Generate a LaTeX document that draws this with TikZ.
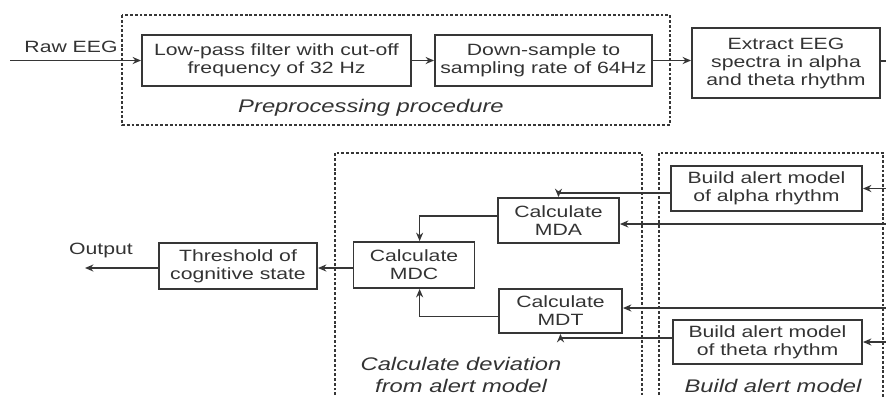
\documentclass[tikz,border=0pt]{standalone}
\usepackage{fontspec}
\setmainfont{Liberation Sans}[FakeStretch=1.3]
\usetikzlibrary{arrows.meta,positioning}

\definecolor{linegray}{HTML}{363636}
\definecolor{txtgray}{HTML}{333333}

\begin{document}
\begin{tikzpicture}[x=0.025cm, y=-0.025cm, font=\fontsize{11.6}{12.8}\selectfont, text=txtgray]

% Define styles
\tikzstyle{box} = [rectangle, draw=linegray, line width=1.3pt, align=center, inner sep=0pt]
\tikzstyle{group} = [draw=linegray, line width=0.9pt, dash pattern=on 2pt off 1.4pt]
\tikzstyle{caption} = [font=\fontsize{13}{15}\selectfont\itshape, align=center]
\tikzstyle{arrow} = [draw=linegray, line width=1.2pt, ->, >={Stealth[length=6pt,width=5pt]}]
\tikzstyle{line} = [draw=linegray, line width=1.2pt]

\useasboundingbox (0,0) rectangle (886,396);

% Groups
\draw [group] (122,15) rectangle (670,125);
\draw [group] (335,400) |- (642,153) -- (642,400);
\draw [group] (659,400) |- (883,153) -- (883,400);

% Nodes
\node [box, minimum width=6.725cm, minimum height=1.275cm] (lowpass) at (276.5,60.5) {Low-pass filter with cut-off\\frequency of 32 Hz};
\node [box, minimum width=5.425cm, minimum height=1.275cm] (downsample) at (543.5,60.5) {Down-sample to\\sampling rate of 64Hz};
\node [box, minimum width=4.7cm, minimum height=1.75cm] (extract) at (786,63) {Extract EEG\\spectra in alpha\\and theta rhythm};

\node [box, minimum width=4.775cm, minimum height=1.125cm] (alpha) at (766.5,188.5) {Build alert model\\of alpha rhythm};
\node [box, minimum width=4.725cm, minimum height=1.1cm] (theta) at (767.5,342) {Build alert model\\of theta rhythm};
\node [box, minimum width=3.025cm, minimum height=1.125cm] (mda) at (558.5,220.5) {Calculate\\MDA};
\node [box, minimum width=3.075cm, minimum height=1.1cm] (mdt) at (560.5,311) {Calculate\\MDT};
\node [box, minimum width=3.025cm, minimum height=1.15cm] (mdc) at (414,265) {Calculate\\MDC};
\node [box, minimum width=3.95cm, minimum height=1.15cm] (thresh) at (238,266) {Threshold of\\cognitive state};

% Labels
\node (rawlbl) at (71,47) {Raw EEG};
\node (outlbl) at (101,250) {Output};
\node [caption] (prelbl) at (371,108) {Preprocessing procedure};
\node [caption] (devlbl) at (461,375) {Calculate deviation\\from alert model};
\node [caption] (buildlbl) at (773,386) {Build alert model};

% Free ends
\coordinate (raw) at (10,60.5);
\coordinate (out) at (85,268);
\coordinate (specR) at (886,61);
\coordinate (inAlpha) at (886,188.5);
\coordinate (inMDA) at (886,224);
\coordinate (inMDT) at (886,308);
\coordinate (inTheta) at (886,342);

% Arrows
\draw [arrow] (raw) -- (lowpass);
\draw [arrow] (lowpass) -- (downsample);
\draw [arrow] (downsample.east) -- (downsample.east -| extract.west);
\draw [line] (extract.east |- specR) -- (specR);

\draw [arrow] (inAlpha) -- (alpha);
\draw [arrow] (inTheta) -- (theta);
\draw [arrow] (inMDA) -- (inMDA -| mda.east);
\draw [arrow] (inMDT) -- (inMDT -| mdt.east);

\draw [arrow] ([yshift=-3]alpha.west) -| (mda.north);
\draw [arrow] ([yshift=3]theta.west) -| (mdt.south);
\draw [arrow] ([yshift=3]mda.west) -| ([xshift=4]mdc.north);
\draw [arrow] ([yshift=-4]mdt.west) -| ([xshift=4]mdc.south);

\draw [arrow] (mdc.west |- 0,268) -- (thresh.east |- 0,268);
\draw [arrow] (thresh.west |- out) -- (out);

\end{tikzpicture}
\end{document}
